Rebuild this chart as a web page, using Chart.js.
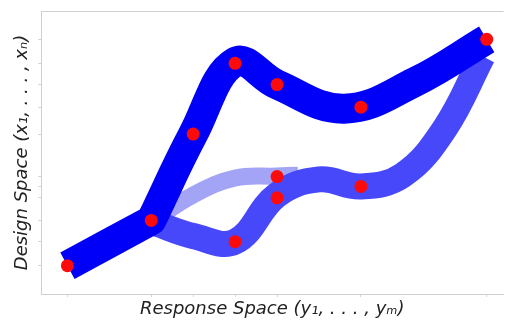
<!DOCTYPE html>
<html>
<head>
<meta charset="utf-8">
<script src="https://cdn.jsdelivr.net/npm/chart.js@4"></script>
<style>
  body { margin: 0; background: #fff; }
  #wrap { width: 510px; height: 321px; }
</style>
</head>
<body>
<div id="wrap"><canvas id="chart" width="510" height="321"></canvas></div>
<script>
// sample points (red dots)
const pointX = [1, 3, 4, 5, 6, 8, 11, 5, 6, 6, 8];
const pointY = [1.0, 2.6, 5.65, 8.15, 7.4, 6.6, 9.0, 1.85, 4.15, 3.4, 3.8];

// centre lines of the three bands (the repeated vertex at x=3 keeps the kink sharp)
const upperX = [1, 3, 3, 4, 5, 6, 7.6, 9.3, 11];
const upperY = [1.0, 2.6, 2.6, 5.65, 8.2, 7.4, 6.55, 7.5, 9.0];

const lowerX = [3.1, 4, 5, 6, 7, 8, 9, 10, 10.9];
const lowerY = [2.5, 2.05, 1.85, 3.5, 4.05, 3.8, 4.2, 5.85, 8.4];

const fadedX = [3, 4, 5, 6, 6.5];
const fadedY = [2.55, 3.5, 4.1, 4.17, 4.2];

// tick marks sit on the sample coordinates
const xTicks = [...new Set(pointX)];
const yTicks = [...new Set(pointY)];

const xTitle = 'Response Space (y\u2081, . . . , y\u2098)';
const yTitle = 'Design Space (x\u2081, . . . , x\u2099)';

function toXY(xs, ys) {
    return xs.map((x, i) => ({ x: x, y: ys[i] }));
}

function band(xs, ys, color, width) {
    return {
        type: 'line',
        data: toXY(xs, ys),
        borderColor: color,
        borderWidth: width,
        borderCapStyle: 'butt',
        borderJoinStyle: 'round',
        tension: 0.4,
        pointRadius: 0,
        fill: false
    };
}

const frameTop = {
    id: 'frameTop',
    beforeDatasetsDraw(chart) {
        const { ctx, chartArea } = chart;
        ctx.save();
        ctx.strokeStyle = '#cfcfcf';
        ctx.lineWidth = 1;
        ctx.beginPath();
        ctx.moveTo(chartArea.left, chartArea.top + 0.5);
        ctx.lineTo(chartArea.right, chartArea.top + 0.5);
        ctx.stroke();
        ctx.restore();
    }
};

const titleFont = { family: 'DejaVu Sans', size: 18, style: 'italic' };

// first dataset is painted last (on top)
new Chart(document.getElementById('chart'), {
    data: {
        datasets: [
            {
                type: 'scatter',
                data: toXY(pointX, pointY),
                pointRadius: 6.5,
                pointBorderWidth: 0,
                pointBackgroundColor: '#ff0a0a',
                showLine: false
            },
            band(upperX, upperY, '#0000f8', 30),
            band(lowerX, lowerY, '#4848fb', 26),
            band(fadedX, fadedY, '#a4a4f6', 17)
        ]
    },
    options: {
        responsive: false,
        animation: false,
        layout: { padding: { top: 11, right: 0, left: 0, bottom: 0 } },
        plugins: { legend: { display: false }, tooltip: { enabled: false } },
        scales: {
            x: {
                type: 'linear',
                min: 0.37,
                max: 11.4,
                afterBuildTicks: s => { s.ticks = xTicks.map(v => ({ value: v })); },
                afterFit: s => { s.height = 27; },
                ticks: { display: false },
                grid: { drawOnChartArea: false, drawTicks: true, tickLength: 3, color: '#d6d6d6' },
                border: { color: '#cfcfcf' },
                title: { display: true, text: xTitle, color: '#222', font: titleFont, padding: { top: 0, bottom: 1 } }
            },
            y: {
                type: 'linear',
                min: 0,
                max: 10,
                afterBuildTicks: s => { s.ticks = yTicks.map(v => ({ value: v })); },
                afterFit: s => { s.width = 41; },
                ticks: { display: false },
                grid: { drawOnChartArea: false, drawTicks: true, tickLength: 3, color: '#d6d6d6' },
                border: { color: '#cfcfcf' },
                title: { display: true, text: yTitle, color: '#222', font: titleFont, padding: { top: 12, bottom: 0 } }
            }
        }
    },
    plugins: [frameTop]
});
</script>
</body>
</html>
